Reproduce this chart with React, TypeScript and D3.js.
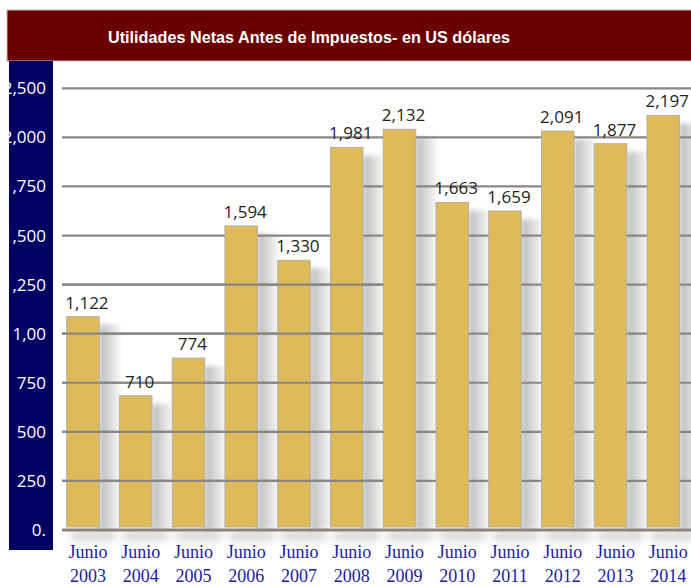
import React, { useEffect, useRef } from 'react';
import * as d3 from 'd3';

const title = 'Utilidades Netas Antes de Impuestos- en US dólares';
const years = ['2003', '2004', '2005', '2006', '2007', '2008', '2009', '2010', '2011', '2012', '2013', '2014'];
// printed value over each bar
const valueLabels = ['1,122', '710', '774', '1,594', '1,330', '1,981', '2,132', '1,663', '1,659', '2,091', '1,877', '2,197'];
// bar heights as drawn (read against the gridlines)
const barHeights = [1087, 684, 876, 1549, 1374, 1949, 2041, 1669, 1625, 2032, 1968, 2112];
const tickValues = [0, 250, 500, 750, 1000, 1250, 1500, 1750, 2000, 2250];
const tickLabels = ['0.', '250', '500', '750', '1,00', '1,250', '1,500', '1,750', '2,000', '2,500'];

const width = 691;
const height = 587;

export default function App() {
  const svgRef = useRef<SVGSVGElement | null>(null);

  useEffect(() => {
    if (!svgRef.current) return;
    const svg = d3.select(svgRef.current);
    svg.selectAll('*').remove();

    const x = d3.scaleBand<string>()
      .domain(years)
      .range([66.7, 679.5])
      .paddingInner(0.384)
      .paddingOuter(0);
    const y = d3.scaleLinear().domain([0, 2250]).range([530, 88.3]);
    const bw = x.bandwidth();
    const step = x.step();
    const gridX0 = 62;

    const defs = svg.append('defs');
    const grad = defs.append('linearGradient').attr('id', 'shadowGrad')
      .attr('x1', 0).attr('x2', 1).attr('y1', 0).attr('y2', 0);
    grad.append('stop').attr('offset', 0).attr('stop-color', '#b9b9b9');
    grad.append('stop').attr('offset', 0.6).attr('stop-color', '#dedede');
    grad.append('stop').attr('offset', 1).attr('stop-color', '#f3f3f3');
    defs.append('filter').attr('id', 'soft').attr('x', '-50%').attr('y', '-50%')
      .attr('width', '200%').attr('height', '200%')
      .append('feGaussianBlur').attr('stdDeviation', 2.5);
    defs.append('filter').attr('id', 'softer').attr('x', '-50%').attr('y', '-100%')
      .attr('width', '200%').attr('height', '300%')
      .append('feGaussianBlur').attr('stdDeviation', 4);
    defs.append('clipPath').attr('id', 'stripClip')
      .append('rect').attr('x', 9).attr('y', 61).attr('width', 44).attr('height', 489);

    svg.append('rect').attr('width', width).attr('height', height).attr('fill', '#fff');

    // title bar
    svg.append('rect')
      .attr('x', 7).attr('y', 10).attr('width', 690).attr('height', 51)
      .attr('fill', '#6b0000').attr('stroke', '#d2b8b8').attr('stroke-width', 1);
    svg.append('text')
      .attr('x', 108).attr('y', 43)
      .attr('fill', '#fff')
      .attr('font-family', '"Liberation Sans", Arial, sans-serif')
      .attr('font-weight', 'bold')
      .attr('font-size', 17)
      .attr('textLength', 402)
      .attr('lengthAdjust', 'spacingAndGlyphs')
      .text(title);

    // navy axis strip
    svg.append('rect')
      .attr('x', 9).attr('y', 61).attr('width', 44).attr('height', 489)
      .attr('fill', '#000062');

    // soft shadow under the baseline
    svg.append('g').selectAll('rect')
      .data(years)
      .enter()
      .append('rect')
      .attr('x', d => (x(d) as number) + 4)
      .attr('y', y(0) + 2)
      .attr('width', step - 8)
      .attr('height', 8)
      .attr('fill', '#cfcfcf')
      .attr('filter', 'url(#softer)');

    // bar shadows
    svg.append('g').selectAll('rect')
      .data(years)
      .enter()
      .append('rect')
      .attr('x', d => (x(d) as number) + bw)
      .attr('y', (d, i) => y(barHeights[i]) + 8)
      .attr('width', step - bw)
      .attr('height', (d, i) => y(0) - y(barHeights[i]) - 8)
      .attr('fill', 'url(#shadowGrad)')
      .attr('filter', 'url(#soft)');

    // gridlines (behind bars)
    svg.append('g').selectAll('line')
      .data(tickValues.filter(v => v > 0))
      .enter()
      .append('line')
      .attr('x1', gridX0).attr('x2', width)
      .attr('y1', d => y(d)).attr('y2', d => y(d))
      .attr('stroke', '#8c8682').attr('stroke-width', 2.2);

    // bars
    svg.append('g').selectAll('rect')
      .data(years)
      .enter()
      .append('rect')
      .attr('x', d => x(d) as number)
      .attr('y', (d, i) => y(barHeights[i]))
      .attr('width', bw)
      .attr('height', (d, i) => y(0) - y(barHeights[i]) - 3)
      .attr('fill', '#dfba5a')
      .attr('stroke', '#b4b0a8')
      .attr('stroke-width', 1);

    // lower gridlines run over the first bars
    const overlayEnd = x(years[6]) as number;
    svg.append('g').selectAll('line')
      .data(tickValues.filter(v => v > 0 && v <= 1250))
      .enter()
      .append('line')
      .attr('x1', gridX0).attr('x2', overlayEnd)
      .attr('y1', d => y(d)).attr('y2', d => y(d))
      .attr('stroke', '#8c8682').attr('stroke-width', 2.2);

    // baseline
    svg.append('line')
      .attr('x1', gridX0).attr('x2', width)
      .attr('y1', y(0)).attr('y2', y(0))
      .attr('stroke', '#8a8480').attr('stroke-width', 3);

    // value labels
    svg.append('g').selectAll('text')
      .data(valueLabels)
      .enter()
      .append('text')
      .attr('x', (d, i) => (x(years[i]) as number) + bw / 2 + 4)
      .attr('y', (d, i) => y(barHeights[i]) - 8)
      .attr('text-anchor', 'middle')
      .attr('fill', '#231f20')
      .attr('font-family', '"Open Sans", sans-serif')
      .attr('font-size', 17)
      .text(d => d);

    // category labels
    const cat = svg.append('g')
      .attr('fill', '#1c1c9c')
      .attr('font-family', '"Liberation Serif", "Times New Roman", serif')
      .attr('font-size', 18)
      .attr('text-anchor', 'middle');
    cat.selectAll('text.m')
      .data(years)
      .enter()
      .append('text')
      .attr('class', 'm')
      .attr('x', d => (x(d) as number) + bw / 2 + 5)
      .attr('y', 558)
      .text('Junio');
    cat.selectAll('text.yr')
      .data(years)
      .enter()
      .append('text')
      .attr('class', 'yr')
      .attr('x', d => (x(d) as number) + bw / 2 + 5)
      .attr('y', 582)
      .text(d => d);

    // y tick labels, clipped by the strip
    svg.append('g')
      .attr('clip-path', 'url(#stripClip)')
      .selectAll('text')
      .data(tickValues)
      .enter()
      .append('text')
      .attr('x', 46)
      .attr('y', d => y(d) + 6)
      .attr('text-anchor', 'end')
      .attr('fill', '#fff')
      .attr('font-family', '"Open Sans", sans-serif')
      .attr('font-size', 17)
      .text((d, i) => tickLabels[i]);
  }, []);

  return (
    <svg
      ref={svgRef}
      width={width}
      height={height}
      viewBox={`0 0 ${width} ${height}`}
      style={{ position: 'fixed', left: 0, top: 0, display: 'block' }}
    />
  );
}
